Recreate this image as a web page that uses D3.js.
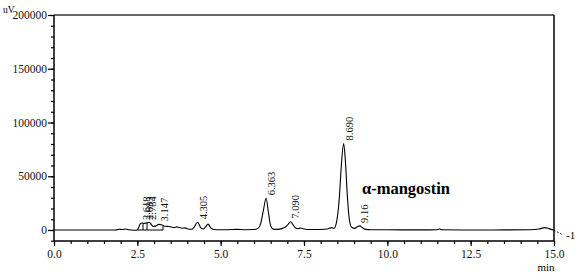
<!DOCTYPE html>
<html>
<head>
<meta charset="utf-8">
<script src="https://cdn.jsdelivr.net/npm/d3@7"></script>
<style>
  body { margin: 0; background: #fff; }
  svg { display: block; }
  .tick text { font-family: "Liberation Serif", serif; font-size: 11.5px; fill: #111; }
  .tick line { stroke: #000; stroke-width: 1.2; }
</style>
</head>
<body>
<svg id="canvas" width="577" height="278"></svg>
<script>
"use strict";

// retention time (min) and detector signal (uV)
const times = [0, 1.0, 1.85, 1.95, 2.05, 2.15, 2.25, 2.4, 2.5, 2.56, 2.6, 2.648, 2.7, 2.75, 2.8, 2.86, 2.92, 2.98,
  3.05, 3.147, 3.22, 3.3, 3.4, 3.5, 3.6, 3.68, 3.76, 3.85, 3.93, 4.02, 4.12, 4.2, 4.305, 4.4, 4.48, 4.54, 4.62,
  4.7, 4.8, 4.95, 5.2, 5.5, 5.7, 6.0, 6.12, 6.2, 6.28, 6.363, 6.43, 6.5, 6.58, 6.7, 6.85, 6.95, 7.03, 7.1, 7.17,
  7.25, 7.32, 7.4, 7.5, 7.7, 8.0, 8.2, 8.32, 8.4, 8.48, 8.56, 8.62, 8.69, 8.74, 8.8, 8.86, 8.93, 9.02, 9.1, 9.17,
  9.25, 9.35, 9.5, 10.0, 11.0, 11.5, 11.57, 11.65, 12.5, 13.5, 14.3, 14.55, 14.72, 14.85, 15.0];
const signal = [0, 0, 0, 700, 400, 900, 200, -200, 0, 4000, 6300, 6500, 6200, 6400, 6600, 7200, 5000, 3200,
  3600, 5200, 4800, 3800, 3400, 3000, 2200, 2900, 2300, 1600, 2000, 1000, 700, 2500, 7200, 2200, 900, 2600, 5500,
  2000, 500, 200, 300, 600, 300, 400, 1500, 6000, 18000, 29500, 17000, 4000, 800, 600, 1500, 3000, 5500, 7700, 5000,
  1800, 1200, 1800, 900, 400, 500, 1000, 2200, 1500, 8000, 30000, 60000, 80500, 65000, 32000, 10000, 2500, 1500, 3000, 3800,
  2200, 600, 300, 200, 100, 300, 900, 200, 0, 100, 200, 900, 2200, 1300, -300];

// peak labels
const peakTimes = [2.618, 2.693, 2.784, 3.147, 4.305, 6.363, 7.090, 8.690, 9.16];
const peakLabels = ["2.618", "2.693", "2.784", "3.147", "4.305", "6.363", "7.090", "8.690", "9.16"];

// integration drop lines under the first cluster
const dropTimes = [2.5, 2.67, 2.79, 3.27];
const dropHeights = [0, 6300, 6600, 3700];

const xMajor = [0, 2.5, 5, 7.5, 10, 12.5, 15];
const xMinor = d3.range(0, 15.01, 0.5);
const yMajor = [0, 50000, 100000, 150000, 200000];
const yMinor = d3.range(-10000, 200001, 10000);

const svg = d3.select('#canvas');
const x = d3.scaleLinear().domain([0, 15]).range([54, 554]);
const y = d3.scaleLinear().domain([0, 200000]).range([230, 15]);
const axisY = 241;

// frame
svg.append('line').attr('x1', 54).attr('x2', 554).attr('y1', 15).attr('y2', 15)
  .attr('stroke', '#666').attr('stroke-width', 2);
svg.append('line').attr('x1', 554).attr('x2', 554).attr('y1', 15).attr('y2', axisY)
  .attr('stroke', '#000').attr('stroke-width', 1.5);
svg.append('line').attr('x1', 54).attr('x2', 554).attr('y1', axisY).attr('y2', axisY)
  .attr('stroke', '#000').attr('stroke-width', 1.5);
svg.append('line').attr('x1', 54).attr('x2', 54).attr('y1', 15).attr('y2', axisY)
  .attr('stroke', '#000').attr('stroke-width', 1.5);

// y axis
const gy = svg.append('g').attr('transform', 'translate(54,0)');
gy.call(d3.axisLeft(y).tickValues(yMinor).tickSize(3).tickFormat(''));
gy.append('g').call(d3.axisLeft(y).tickValues(yMajor).tickSize(6).tickPadding(1).tickFormat(d3.format('d')));
gy.selectAll('.domain').remove();

// x axis
const gx = svg.append('g').attr('transform', `translate(0,${axisY})`);
gx.call(d3.axisBottom(x).tickValues(xMinor).tickSize(3).tickFormat(''));
gx.append('g').call(d3.axisBottom(x).tickValues(xMajor).tickSize(5).tickPadding(4).tickFormat(d3.format('.1f')));
gx.selectAll('.domain').remove();

// trace
const points = times.map((t, i) => [t, signal[i]]);
svg.append('path')
  .datum(points)
  .attr('fill', 'none')
  .attr('stroke', '#000')
  .attr('stroke-width', 1.1)
  .attr('d', d3.line().x(d => x(d[0])).y(d => y(d[1])).curve(d3.curveMonotoneX));

// integration marks
svg.append('line')
  .attr('x1', x(dropTimes[0])).attr('x2', x(dropTimes[dropTimes.length - 1]))
  .attr('y1', y(0)).attr('y2', y(0)).attr('stroke', '#000');
svg.selectAll('.drop')
  .data(dropTimes.slice(1))
  .enter()
  .append('line')
  .attr('class', 'drop')
  .attr('x1', d => x(d)).attr('x2', d => x(d))
  .attr('y1', y(0)).attr('y2', (d, i) => y(dropHeights[i + 1]))
  .attr('stroke', '#000');

// dotted tail to the end marker
svg.append('line')
  .attr('x1', x(15)).attr('y1', y(-300)).attr('x2', x(15) + 9).attr('y2', y(-4500))
  .attr('stroke', '#000').attr('stroke-dasharray', '1.5,2');
svg.append('text').attr('x', 566).attr('y', 238.5)
  .attr('font-family', 'Liberation Serif').attr('font-size', 11).text('-1');

// peak labels
const peakTop = (t) => d3.max(points.filter(p => Math.abs(p[0] - t) <= 0.06), p => p[1]);
svg.selectAll('.peak')
  .data(peakTimes)
  .enter()
  .append('text')
  .attr('class', 'peak')
  .attr('transform', d => `translate(${x(d) + 9},${y(peakTop(d)) - 3}) rotate(-90)`)
  .attr('font-family', 'Liberation Serif')
  .attr('font-size', 10.5)
  .attr('fill', '#111')
  .text((d, i) => peakLabels[i]);

// units and compound name
svg.append('text').attr('x', 3).attr('y', 13)
  .attr('font-family', 'Liberation Serif').attr('font-size', 9.5).text('uV');
svg.append('text').attr('x', 546).attr('y', 271).attr('text-anchor', 'middle')
  .attr('font-family', 'Liberation Serif').attr('font-size', 11).text('min');
svg.append('text').attr('x', 362).attr('y', 194)
  .attr('font-family', 'Liberation Serif').attr('font-size', 16.5).attr('font-weight', 'bold')
  .text('α-mangostin');
</script>
</body>
</html>
